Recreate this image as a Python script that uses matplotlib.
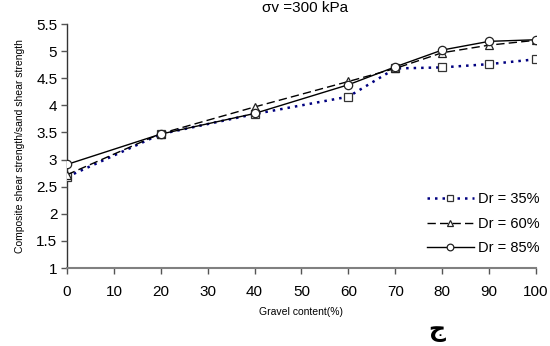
import matplotlib
matplotlib.use("Agg")
import matplotlib.pyplot as plt

gravel = [0, 20, 40, 60, 70, 80, 90, 100]
dr35 = [2.68, 3.47, 3.84, 4.16, 4.68, 4.70, 4.76, 4.85]
dr60 = [2.72, 3.48, 3.97, 4.44, 4.68, 4.97, 5.11, 5.20]
dr85 = [2.91, 3.47, 3.85, 4.38, 4.71, 5.02, 5.18, 5.21]
x_ticks = [0, 10, 20, 30, 40, 50, 60, 70, 80, 90, 100]
y_ticks = [1, 1.5, 2, 2.5, 3, 3.5, 4, 4.5, 5, 5.5]

plt.rcParams["font.family"] = ["Liberation Sans", "DejaVu Sans"]

fig = plt.figure(figsize=(5.5, 3.46), dpi=100)
ax = fig.add_axes([0.1218, 0.2254, 0.8527, 0.7052])

ax.plot(gravel, dr35, linestyle=(0, (1, 2)), color="#000080", lw=1.8,
        marker="s", ms=5.5, mfc="white", mec="#333333", mew=0.9,
        label="Dr = 35%")
ax.plot(gravel, dr60, linestyle=(0, (6, 3)), color="black", lw=1.0,
        marker="^", ms=6, mfc="white", mec="#222222", mew=0.9,
        label="Dr = 60%")
ax.plot(gravel, dr85, linestyle="-", color="black", lw=1.0,
        marker="o", ms=6, mfc="white", mec="#222222", mew=0.9,
        label="Dr = 85%")

ax.set_xlim(0, 100)
ax.set_ylim(1, 5.5)
ax.set_xticks(x_ticks)
ax.set_yticks(y_ticks)
ax.set_xticklabels([str(v) for v in x_ticks])
ax.set_yticklabels([f"{v:g}" for v in y_ticks])
ax.tick_params(axis="both", direction="out", length=4, width=1,
               labelsize=11, color="#555555")
ax.tick_params(axis="x", pad=8)
ax.tick_params(axis="y", pad=3)

for side in ("top", "right"):
    ax.spines[side].set_visible(False)
ax.spines["bottom"].set_color("#808080")
ax.spines["bottom"].set_linewidth(1.5)
ax.spines["left"].set_color("#333333")
ax.spines["left"].set_linewidth(1.0)
ax.spines["left"].set_zorder(0.5)

ax.set_xlabel("Gravel content(%)", fontsize=7.5, labelpad=6)
ax.set_ylabel("Composite shear strength/sand shear strength", fontsize=7.5,
              labelpad=8)

leg = ax.legend(loc="lower right", frameon=False, fontsize=10.5,
                handlelength=3.2, handletextpad=0.3, labelspacing=0.7,
                markerscale=0.8, borderaxespad=0.0,
                bbox_to_anchor=(1.02, 0.03))

fig.text(0.555, 0.966, "σv =300 kPa", ha="center", va="baseline",
         fontsize=11)
fig.text(0.795, 0.045, "ج", ha="center", va="center", fontsize=17,
         fontweight="bold", family="DejaVu Sans")

fig.savefig("out.png", dpi=100)
